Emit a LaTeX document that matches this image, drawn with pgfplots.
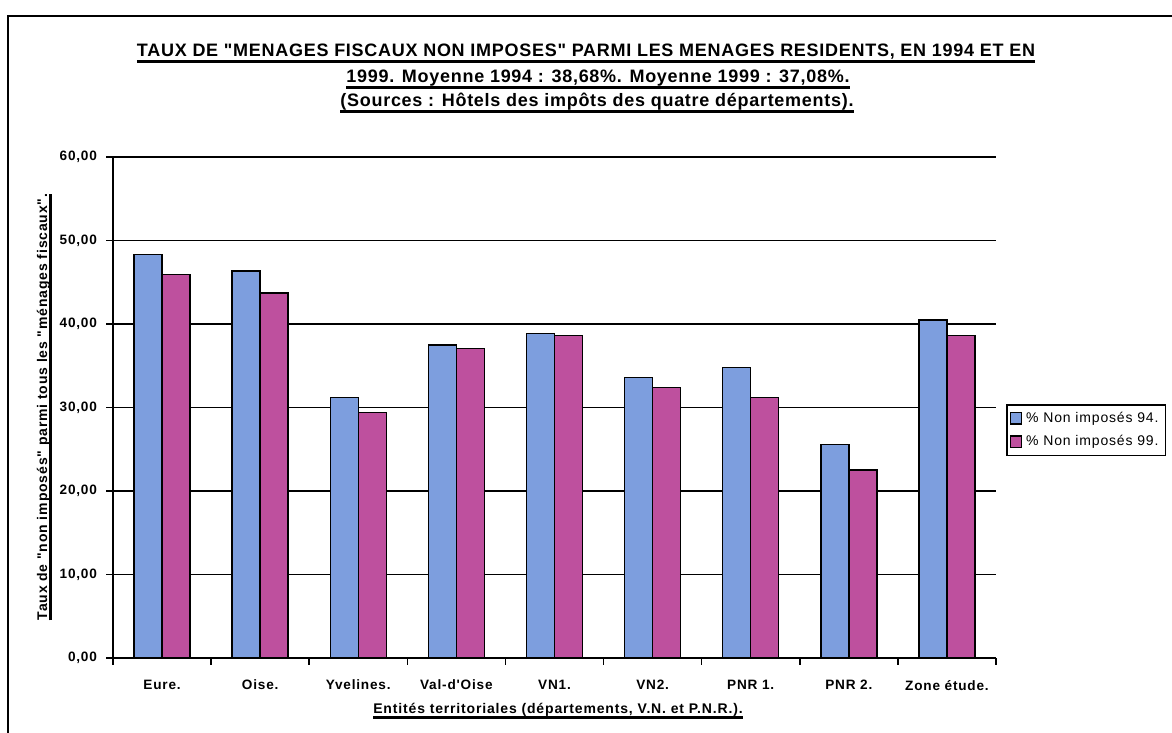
\documentclass[border=0pt]{standalone}
\usepackage{pgfplots}
\pgfplotsset{compat=1.18}
\usepackage{fontspec}
\setmainfont{Liberation Sans}
\newfontfamily\spaced[LetterSpace=6]{Liberation Sans}
\newfontfamily\titlefont[LetterSpace=4]{Liberation Sans}

\definecolor{bleu}{RGB}{125,158,222}
\definecolor{rose}{RGB}{190,80,158}

% underline with a thicker rule
\newcommand\ul[2][3pt]{\setbox0=\hbox{#2}\leavevmode\rlap{\copy0}\rule[-#1]{\wd0}{1.3pt}}

\begin{document}
\begin{tikzpicture}[x=1pt,y=1pt]
\path[use as bounding box] (0,0) rectangle (586,366.5);
\draw[line width=0.8pt] (4,0) -- (4,358.5) -- (586,358.5);

\node[anchor=base, inner sep=0] at (293,338) {\titlefont\bfseries\fontsize{9}{10}\selectfont
  \ul[3pt]{TAUX DE "MENAGES FISCAUX NON IMPOSES" PARMI LES MENAGES RESIDENTS, EN 1994 ET EN}};
\node[anchor=base, inner sep=0] at (299,325) {\titlefont\bfseries\fontsize{9}{10}\selectfont
  \ul[3pt]{1999. Moyenne 1994 : 38,68\%. Moyenne 1999 : 37,08\%.}};
\node[anchor=base, inner sep=0] at (298.5,313) {\titlefont\bfseries\fontsize{9}{10}\selectfont
  \ul[3pt]{(Sources : Hôtels des impôts des quatre départements).}};

\begin{axis}[
  at={(56.5pt,37.5pt)}, anchor=south west,
  scale only axis, width=441.5pt, height=250.5pt,
  ybar=0pt, bar width=14pt,
  xmin=-0.5, xmax=8.5, ymin=0, ymax=60,
  xtick={0,...,8},
  xticklabels={Eure.,Oise.,Yvelines.,Val-d'Oise,VN1.,VN2.,PNR 1.,PNR 2.,Zone étude.},
  every major x tick/.append style={draw=none},
  minor xtick={-0.5,0.5,...,8.5},
  ytick={0,10,...,60},
  tick align=outside, major tick length=3.5pt, minor tick length=3.5pt,
  axis x line*=bottom, axis y line*=left,
  axis line style={line width=0.8pt},
  tick style={black, line width=0.8pt},
  ymajorgrids, grid style={black, line width=0.6pt},
  tick label style={font=\spaced\bfseries\fontsize{6.8}{8}\selectfont},
  xticklabel style={yshift=-4pt},
  yticklabel style={xshift=-1pt, /pgf/number format/.cd, fixed, fixed zerofill, precision=2, use comma, assume math mode=true},
  legend image code/.code={\draw[#1, line width=0.6pt] (0pt,-2.8pt) rectangle (5.6pt,2.8pt);},
  legend style={at={(1.0113,0.455)}, anchor=west, draw=black, line width=0.8pt,
    font=\spaced\fontsize{7}{8}\selectfont, inner sep=1.5pt, row sep=1pt},
  legend cell align=left,
]
\addplot[fill=bleu, draw=black, line width=0.7pt] coordinates {(0,48.3) (1,46.35) (2,31.2) (3,37.5) (4,38.85) (5,33.6) (6,34.8) (7,25.6) (8,40.5)};
\addplot[fill=rose, draw=black, line width=0.7pt] coordinates {(0,45.95) (1,43.7) (2,29.4) (3,37.1) (4,38.6) (5,32.4) (6,31.2) (7,22.5) (8,38.6)};
\legend{\% Non imposés 94., \% Non imposés 99.}
\end{axis}

\node[anchor=base, inner sep=0] at (279,9.5) {\spaced\bfseries\fontsize{7}{8}\selectfont
  \ul[2.5pt]{Entités territoriales (départements, V.N. et P.N.R.).}};
\node[anchor=base, inner sep=0, rotate=90] at (23.5,163) {\spaced\bfseries\fontsize{7}{8}\selectfont
  \ul[2.5pt]{Taux de "non imposés" parmi tous les "ménages fiscaux".}};
\end{tikzpicture}
\end{document}
